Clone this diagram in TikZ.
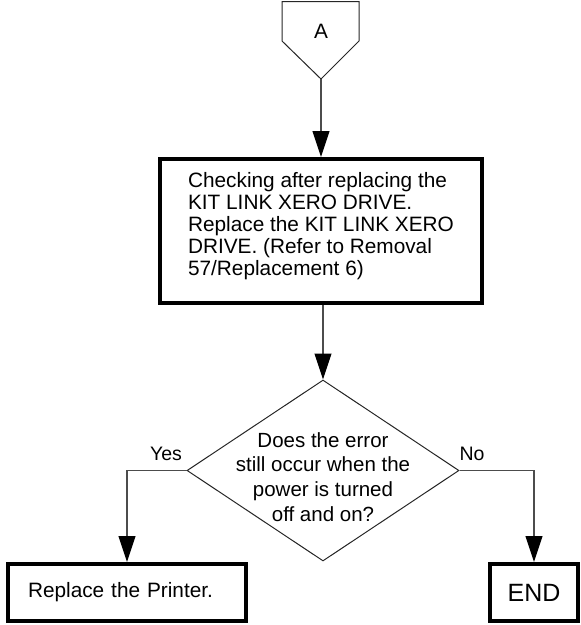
\documentclass[tikz,border=0pt]{standalone}
\usepackage{fontspec}
\setmainfont{Liberation Sans}
\usetikzlibrary{arrows.meta,shapes.geometric}
\begin{document}
\fontsize{20.8}{22.2}\selectfont
\begin{tikzpicture}[x=1pt,y=-1pt,
  conn/.style={draw=black!70, line width=1.1pt,
    -{Triangle[length=26pt,width=17pt,color=black]}},
  thinline/.style={draw=black!85, line width=1pt},
  boxnode/.style={draw=black, line width=4pt, inner sep=0pt},
  mainfont/.style={font=\fontsize{20.8}{22.2}\selectfont},
  qfont/.style={font=\fontsize{20.5}{22.2}\selectfont},
  lbl/.style={font=\fontsize{19.5}{22.2}\selectfont, inner sep=0pt}
]
\path[use as bounding box] (0,0) rectangle (581,625);

% off-page connector A
\draw[thinline] (282,1.5) -- (359,1.5) -- (359,41) -- (321,79) -- (282,41) -- cycle;
\node[mainfont, inner sep=0pt] (pA) at (321,31) {A};
\coordinate (pTip) at (321,79);

% process box
\node[boxnode, mainfont, align=left, text depth=14pt,
      minimum width=322pt, minimum height=144pt]
  (check) at (321,231)
  {Checking after replacing the\\KIT LINK XERO DRIVE.\\Replace the KIT LINK XERO\\DRIVE. (Refer to Removal\\57/Replacement 6)};

% decision
\node[diamond, thinline, minimum width=272pt, minimum height=181pt, inner sep=0pt]
  (dec) at (323,470.5) {};
\node[qfont, align=center, inner sep=0pt] (qtext) at (323,477)
  {Does the error\\[2.6pt]still occur when the\\[2.6pt]power is turned\\[2.6pt]off and on?};

% results
\node[boxnode, mainfont, align=left, inner xsep=20pt, text width=198pt, minimum height=57pt]
  (rep) at (127,592.5) {Replace the Printer.};
\node[boxnode, font=\fontsize{25}{27}\selectfont, minimum width=88pt, minimum height=57pt]
  (endb) at (534,592.5) {END};

% connectors
\draw[conn] (pTip) -- (check.north);
\draw[conn] (check.south -| dec.north) -- (dec.north);
\draw[conn] (dec.west) -| (rep.north);
\draw[conn] (dec.east) -| (endb.north);

% labels
\node[lbl] (yes) at (166,454) {Yes};
\node[lbl] (no) at (472,454) {No};
\end{tikzpicture}
\end{document}
